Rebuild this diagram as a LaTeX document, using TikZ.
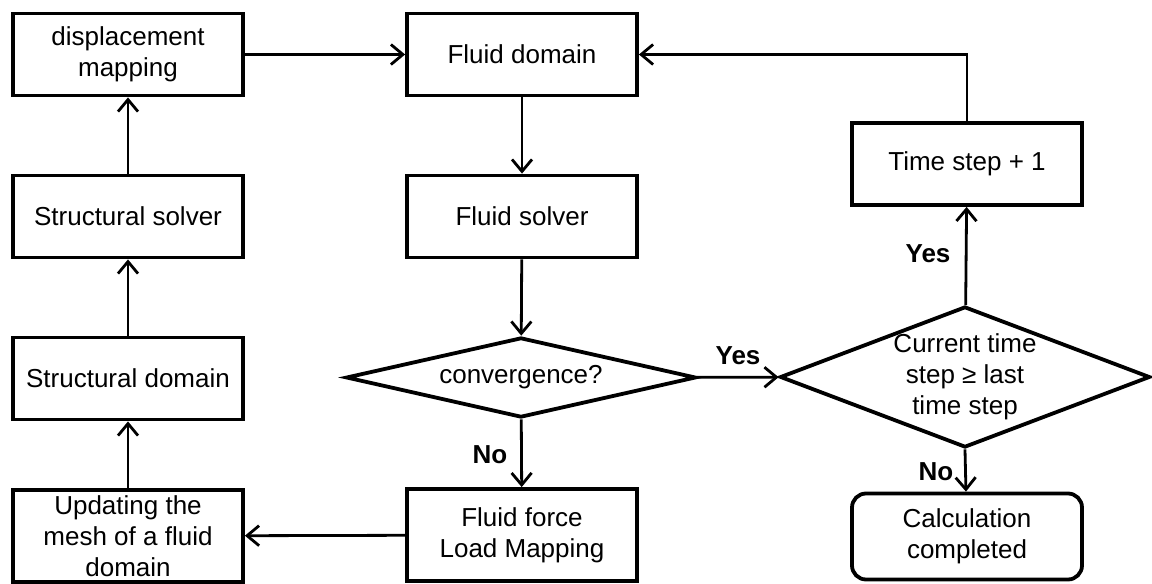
\documentclass[tikz,border=0pt]{standalone}
\usepackage{fontspec}
\setmainfont{Liberation Sans}
\usetikzlibrary{shapes.geometric,arrows.meta}

\begin{document}
\begin{tikzpicture}[x=0.5pt,y=-0.5pt]
\tikzstyle{every node}=[font=\fontsize{13}{15.5}\selectfont]
\tikzstyle{box}=[draw,line width=1.9pt,minimum width=115pt,minimum height=41pt,align=center,inner sep=0pt]
\tikzstyle{decision}=[draw,diamond,line width=1.9pt,align=center,inner sep=-1.5pt]
\tikzstyle{line}=[line width=1.4pt,-{Straight Barb[length=6pt,width=10pt]}]
\tikzstyle{lbl}=[font=\fontsize{13}{15}\selectfont\bfseries]
\useasboundingbox (0,0) rectangle (1152,584);

% left column
\node[box](disp) at (128,54.5){displacement\\mapping};
\node[box](ssolver) at (128,216.5){Structural solver};
\node[box](sdomain) at (128,378.5){Structural domain};
\node[box,minimum height=46pt](update) at (128,536){Updating the\\mesh of a fluid\\domain};

% middle column
\node[box](fdomain) at (522,54.5){Fluid domain};
\node[box](fsolver) at (522,216.5){Fluid solver};
\node[decision,minimum width=175pt,minimum height=40pt,aspect=4](conv) at (521,377.5){convergence?};
\node[box,minimum height=46pt](force) at (522,535){Fluid force\\Load Mapping};

% right column
\node[box](tstep) at (967,164){Time step + 1};
\node[decision,minimum width=185pt,minimum height=70.5pt,aspect=2.6](last) at (965,377){Current time\\step ≥ last\\time step};
\node[box,rounded corners=7pt,minimum height=43pt](done) at (967,536.5){Calculation\\completed};

\draw[line](disp)--(fdomain);
\draw[line](fdomain)--(fsolver);
\draw[line](fsolver)--(conv);
\draw[line](conv)--(last);
\draw[line](conv)--(force);
\draw[line](force)--(update);
\draw[line](update)--(sdomain);
\draw[line](sdomain)--(ssolver);
\draw[line](ssolver)--(disp);
\draw[line](last)--(tstep);
\draw[line](last.south)--(done);
\draw[line](tstep.north)|-(fdomain.east);

\node[lbl](yes1) at (738,356){Yes};
\node[lbl](no1) at (490,455){No};
\node[lbl](yes2) at (928,254){Yes};
\node[lbl](no2) at (936,472){No};

\end{tikzpicture}
\end{document}
